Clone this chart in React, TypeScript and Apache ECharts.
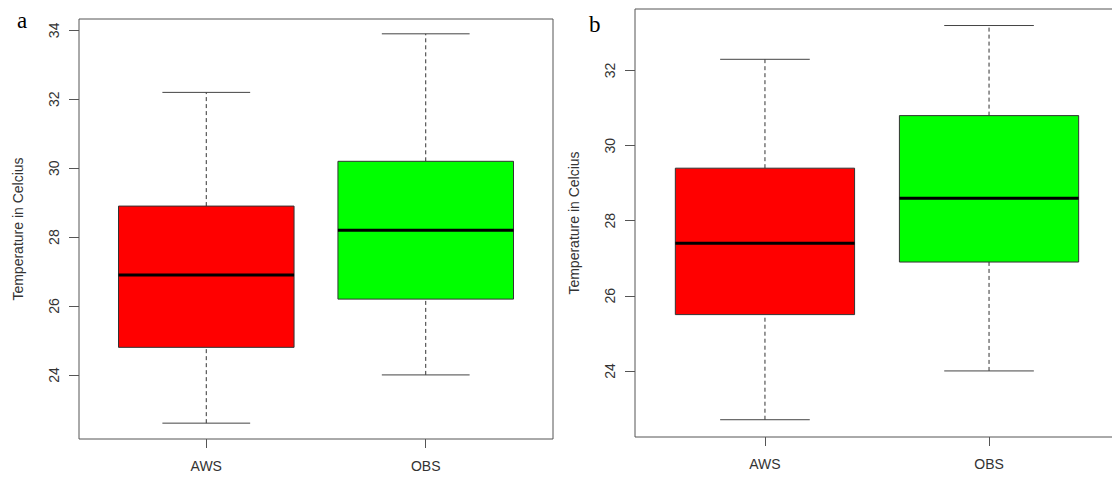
import React, { useEffect, useRef } from "react";
import * as echarts from "echarts";

const categories = ["AWS", "OBS"];
// [lower whisker, Q1, median, Q3, upper whisker]
const panelA_AWS = [22.6, 24.8, 26.9, 28.9, 32.2];
const panelA_OBS = [24.0, 26.2, 28.2, 30.2, 33.9];
const panelB_AWS = [22.7, 25.5, 27.4, 29.4, 32.3];
const panelB_OBS = [24.0, 26.9, 28.6, 30.8, 33.2];
const ticksA = [24, 26, 28, 30, 32, 34];
const ticksB = [24, 26, 28, 30, 32];
const boxColors = ["#ff0000", "#00ff00"];
const yTitle = "Temperature in Celcius";

const renderBox = (params: any, api: any) => {
  const x = api.value(0);
  const lo = api.value(1), q1 = api.value(2), md = api.value(3), q3 = api.value(4), hi = api.value(5);
  const pLo = api.coord([x, lo]);
  const pQ1 = api.coord([x, q1]);
  const pMd = api.coord([x, md]);
  const pQ3 = api.coord([x, q3]);
  const pHi = api.coord([x, hi]);
  const half = api.size([0.8, 0])[0] / 2;
  const cap = half / 2;
  const cx = pMd[0];
  const color = boxColors[params.dataIndex % boxColors.length];
  const dash = { stroke: "#333", lineWidth: 1, lineDash: [4, 3] };
  const solid = { stroke: "#444", lineWidth: 1 };
  return {
    type: "group",
    children: [
      { type: "line", shape: { x1: cx, y1: pLo[1], x2: cx, y2: pQ1[1] }, style: dash },
      { type: "line", shape: { x1: cx, y1: pQ3[1], x2: cx, y2: pHi[1] }, style: dash },
      { type: "line", shape: { x1: cx - cap, y1: pLo[1], x2: cx + cap, y2: pLo[1] }, style: solid },
      { type: "line", shape: { x1: cx - cap, y1: pHi[1], x2: cx + cap, y2: pHi[1] }, style: solid },
      {
        type: "rect",
        shape: { x: cx - half, y: pQ3[1], width: half * 2, height: pQ1[1] - pQ3[1] },
        style: { fill: color, stroke: "#333", lineWidth: 1 },
      },
      { type: "line", shape: { x1: cx - half, y1: pMd[1], x2: cx + half, y2: pMd[1] }, style: { stroke: "#000", lineWidth: 3 } },
    ],
  };
};

const font = "'Liberation Sans', Arial, sans-serif";

const makeX = (gridIndex: number) => ({
  type: "value",
  gridIndex,
  min: 0.42,
  max: 2.58,
  axisLine: { show: false },
  splitLine: { show: false },
  axisTick: { show: true, length: 9, customValues: [1, 2], lineStyle: { color: "#555" } },
  axisLabel: {
    customValues: [1, 2],
    formatter: (v: number) => categories[Math.round(v) - 1] ?? "",
    fontSize: 14,
    color: "#333",
    fontFamily: font,
    margin: 20,
  },
});

const makeY = (gridIndex: number, min: number, max: number, ticks: number[]) => ({
  type: "value",
  gridIndex,
  min,
  max,
  axisLine: { show: false },
  splitLine: { show: false },
  axisTick: { show: true, length: 10, customValues: ticks, lineStyle: { color: "#555" } },
  axisLabel: { customValues: ticks, rotate: 90, fontSize: 14, color: "#333", fontFamily: font, margin: 18 },
  name: yTitle,
  nameLocation: "middle",
  nameGap: 54,
  nameTextStyle: { fontSize: 14, color: "#333", fontFamily: font },
});

export default function App() {
  const ref = useRef<HTMLDivElement>(null);
  useEffect(() => {
    if (!ref.current) return;
    const chart = echarts.init(ref.current, null, { renderer: "svg" });
    chart.setOption({
      animation: false,
      backgroundColor: "#ffffff",
      grid: [
        { left: 79, top: 19, width: 474, height: 420, show: true, borderColor: "#555", borderWidth: 1, backgroundColor: "transparent", outerBoundsMode: "none", containLabel: false },
        { left: 635, top: 9, width: 484, height: 428, show: true, borderColor: "#555", borderWidth: 1, backgroundColor: "transparent", outerBoundsMode: "none", containLabel: false },
      ],
      xAxis: [makeX(0), makeX(1)],
      yAxis: [makeY(0, 22.14, 34.33, ticksA), makeY(1, 22.24, 33.64, ticksB)],
      series: [
        {
          type: "custom",
          xAxisIndex: 0,
          yAxisIndex: 0,
          renderItem: renderBox,
          encode: { x: 0, y: [1, 2, 3, 4, 5] },
          data: [[1, ...panelA_AWS], [2, ...panelA_OBS]],
        },
        {
          type: "custom",
          xAxisIndex: 1,
          yAxisIndex: 1,
          renderItem: renderBox,
          encode: { x: 0, y: [1, 2, 3, 4, 5] },
          data: [[1, ...panelB_AWS], [2, ...panelB_OBS]],
        },
      ],
      graphic: [
        { type: "text", left: 17, top: 9, style: { text: "a", fontSize: 23, fontFamily: "'Liberation Serif', 'Times New Roman', serif", fill: "#000" } },
        { type: "text", left: 589, top: 13, style: { text: "b", fontSize: 23, fontFamily: "'Liberation Serif', 'Times New Roman', serif", fill: "#000" } },
      ],
    });
    return () => chart.dispose();
  }, []);
  return <div ref={ref} style={{ position: "fixed", left: 0, top: 0, width: 1112, height: 477 }} />;
}
